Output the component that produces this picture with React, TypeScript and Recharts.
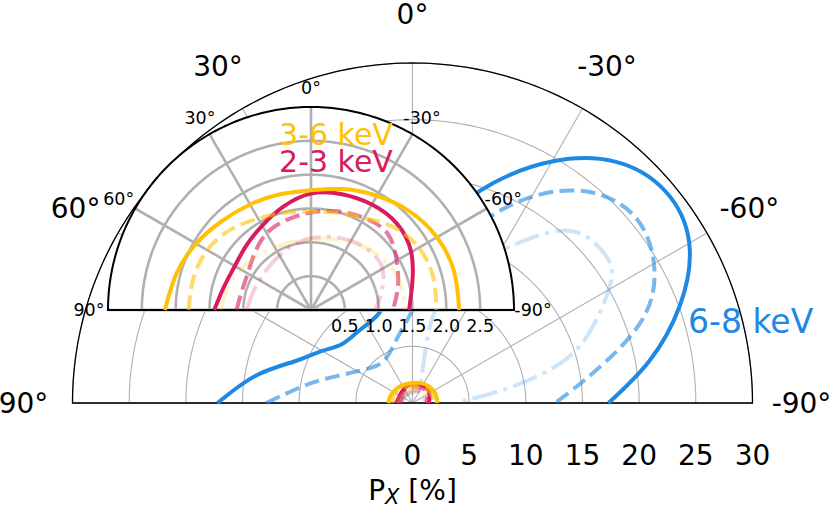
import React from "react";
import {
  RadarChart,
  Radar,
  PolarGrid,
  PolarAngleAxis,
  PolarRadiusAxis,
  Curve,
} from "recharts";

const FONT = "DejaVu Sans, sans-serif";
const BLUE = "#1E88E5";
const ORANGE = "#FFC107";
const CRIMSON = "#D81B60";
const GRID = "#b0b0b0";
const DASHED = "14.8 6.4";
const DASHDOT = "25.6 6.4 4 6.4";

const THETA_TICKS = [-90, -60, -30, 0, 30, 60, 90];
const OUTER_TICKS = [0, 5, 10, 15, 20, 25, 30];
const INSET_TICKS = [0.5, 1, 1.5, 2, 2.5];

// 2-3 keV and 3-6 keV, read on the same angles
const THETA_LOW = [90, 75, 60, 45, 30, 15, 0, -15, -30, -45, -60, -75, -90];
const PX_23_SOLID = [1.43, 1.33, 1.3, 1.35, 1.44, 1.58, 1.72, 1.77, 1.8, 1.8, 1.71, 1.55, 1.45];
const PX_23_DASHED = [1.1, 1.06, 1.08, 1.18, 1.31, 1.38, 1.44, 1.51, 1.57, 1.6, 1.46, 1.33, 1.21];
const PX_23_DASHDOT = [0.95, 0.9, 0.88, 0.89, 0.93, 1.0, 1.06, 1.12, 1.18, 1.23, 1.22, 1.08, 0.95];
const PX_36_SOLID = [2.16, 2.06, 1.96, 1.86, 1.8, 1.77, 1.77, 1.85, 1.95, 2.06, 2.15, 2.19, 2.19];
const PX_36_DASHED = [1.81, 1.8, 1.77, 1.68, 1.56, 1.49, 1.45, 1.49, 1.57, 1.73, 1.84, 1.87, 1.85];
const PX_36_DASHDOT = [1.34, 1.27, 1.2, 1.13, 1.07, 1.04, 1.05, 1.09, 1.16, 1.25, 1.33, 1.38, 1.39];

// 6-8 keV
const THETA_68_SOLID = [90, 80, 70, 60, 50, 35, 20, 10, 0, -10, -20, -30, -40, -50, -60, -70, -80, -90];
const PX_68_SOLID = [17.2, 14.0, 10.9, 9.2, 8.1, 7.95, 8.5, 10.5, 13.2, 16.6, 20.6, 24.6, 27.8, 29.1, 28.2, 25.1, 21.2, 17.3];
const THETA_68_DASHED = [90, 80, 70, 60, 45, 30, 20, 10, 0, -10, -20, -30, -40, -50, -60, -70, -80, -90];
const PX_68_DASHED = [12.9, 9.4, 7.0, 5.6, 4.6, 4.6, 5.2, 6.3, 8.2, 12.0, 16.6, 21.0, 24.3, 25.6, 24.6, 21.6, 16.4, 12.6];
const THETA_68_DASHDOT = [90, 45, 0, -20, -25, -15, -13, -17, -24, -32, -35, -40, -46, -54, -60, -68, -75, -81, -87, -90];
const PX_68_DASHDOT = [1.2, 0.9, 0.9, 1.2, 1.6, 3.9, 7.5, 10.0, 13.3, 16.3, 17.6, 19.8, 21.2, 21.4, 20.0, 16.9, 13.5, 8.7, 4.8, 4.3];

type Series = {
  key: string;
  theta: number[];
  px: number[];
  color: string;
  dash?: string;
  opacity: number;
};

const SERIES_68: Series[] = [
  { key: "s68", theta: THETA_68_SOLID, px: PX_68_SOLID, color: BLUE, opacity: 1 },
  { key: "d68", theta: THETA_68_DASHED, px: PX_68_DASHED, color: BLUE, dash: DASHED, opacity: 0.6 },
  { key: "dd68", theta: THETA_68_DASHDOT, px: PX_68_DASHDOT, color: BLUE, dash: DASHDOT, opacity: 0.22 },
];
const SERIES_LOW: Series[] = [
  { key: "s23", theta: THETA_LOW, px: PX_23_SOLID, color: CRIMSON, opacity: 1 },
  { key: "d23", theta: THETA_LOW, px: PX_23_DASHED, color: CRIMSON, dash: DASHED, opacity: 0.6 },
  { key: "dd23", theta: THETA_LOW, px: PX_23_DASHDOT, color: CRIMSON, dash: DASHDOT, opacity: 0.22 },
  { key: "s36", theta: THETA_LOW, px: PX_36_SOLID, color: ORANGE, opacity: 1 },
  { key: "d36", theta: THETA_LOW, px: PX_36_DASHED, color: ORANGE, dash: DASHED, opacity: 0.6 },
  { key: "dd36", theta: THETA_LOW, px: PX_36_DASHDOT, color: ORANGE, dash: DASHDOT, opacity: 0.22 },
];

const W = 831;
const H = 508;
const FINE_ANGLES = Array.from({ length: 181 }, (_, i) => i);

function toRows(list: Series[]) {
  const rows: Record<string, number>[] = [];
  for (const s of list) {
    s.theta.forEach((t, i) => rows.push({ theta: t, [s.key]: s.px[i] }));
  }
  return rows;
}

// open curve through the points recharts computed (no closing chord)
function openShape(s: Series, width: number) {
  return (props: any) => {
    const pts = (props.points || []).filter(
      (pt: any) => pt.value != null && Number.isFinite(pt.x) && Number.isFinite(pt.y)
    );
    return (
      <Curve
        type="natural"
        points={pts}
        stroke={s.color}
        strokeOpacity={s.opacity}
        strokeWidth={width}
        strokeDasharray={s.dash}
        fill="none"
      />
    );
  };
}

const angleTick = (fontSize: number) => (props: any) => (
  <text
    x={props.x}
    y={props.y}
    textAnchor="middle"
    dominantBaseline="central"
    fontSize={fontSize}
    fontFamily={FONT}
    fill="#000"
  >
    {`${props.payload.value}°`}
  </text>
);

const radiusTick = (fontSize: number, gap: number, digits: number) => (props: any) => (
  <text
    x={props.x}
    y={props.y + gap}
    textAnchor="middle"
    dominantBaseline="central"
    fontSize={fontSize}
    fontFamily={FONT}
    fill="#000"
  >
    {Number(props.payload.value).toFixed(digits)}
  </text>
);

type PanelProps = {
  cx: number;
  cy: number;
  radius: number;
  pMax: number;
  pTicks: number[];
  series: Series[];
  gridWidth: number;
  frameWidth: number;
  fontSize: number;
  labelGap: number;
  tickGap: number;
  digits: number;
  children?: React.ReactNode;
};

function PolarPanel(p: PanelProps) {
  return (
    <RadarChart
      width={W}
      height={H}
      data={toRows(p.series)}
      cx={p.cx}
      cy={p.cy}
      innerRadius={0}
      outerRadius={p.radius}
      startAngle={0}
      endAngle={180}
      margin={{ top: 0, right: 0, bottom: 0, left: 0 }}
    >
      <PolarGrid
        gridType="polygon"
        polarAngles={FINE_ANGLES}
        radialLines={false}
        stroke={GRID}
        strokeWidth={p.gridWidth}
      />
      <PolarGrid gridType="polygon" polarRadius={[]} stroke={GRID} strokeWidth={p.gridWidth} />
      <PolarAngleAxis
        dataKey="theta"
        type="number"
        domain={[-90, 90]}
        ticks={THETA_TICKS}
        axisLine={false}
        tickLine={false}
        tickSize={p.labelGap}
        tick={angleTick(p.fontSize)}
      />
      <PolarRadiusAxis
        angle={0}
        type="number"
        domain={[0, p.pMax]}
        ticks={p.pTicks}
        axisLine={false}
        tick={radiusTick(p.fontSize, p.tickGap, p.digits)}
      />
      {p.series.map((s) => (
        <Radar
          key={s.key}
          dataKey={s.key}
          isAnimationActive={false}
          shape={openShape(s, 4)}
        />
      ))}
      <PolarGrid
        gridType="polygon"
        polarAngles={FINE_ANGLES}
        polarRadius={[p.radius]}
        radialLines={false}
        stroke="#000"
        strokeWidth={p.frameWidth}
      />
      {p.children}
    </RadarChart>
  );
}

const IN_CX = 311;
const IN_CY = 310;
const IN_R = 203;

export default function App() {
  return (
    <div style={{ position: "absolute", left: 0, top: 0, width: W, height: H, background: "#fff" }}>
      <div style={{ position: "absolute", left: 0, top: 0 }}>
        <PolarPanel
          cx={412.5}
          cy={403}
          radius={340}
          pMax={30}
          pTicks={OUTER_TICKS}
          series={[...SERIES_68, ...SERIES_LOW]}
          gridWidth={1.1}
          frameWidth={1.3}
          fontSize={28}
          labelGap={49}
          tickGap={52}
          digits={0}
        >
          <text x={688} y={333} fontSize={33} fontFamily={FONT} fill={BLUE}>
            6-8 keV
          </text>
          <text x={412.5} y={500} textAnchor="middle" fontSize={28} fontFamily={FONT} fill="#000">
            P
            <tspan fontSize={21} fontStyle="italic" dy={4}>
              X
            </tspan>
            <tspan dy={-4}> [%]</tspan>
          </text>
        </PolarPanel>
      </div>
      <div
        style={{
          position: "absolute",
          left: IN_CX - IN_R,
          top: IN_CY - IN_R,
          width: IN_R * 2,
          height: IN_R,
          background: "#fff",
          borderTopLeftRadius: IN_R,
          borderTopRightRadius: IN_R,
        }}
      />
      <div style={{ position: "absolute", left: 0, top: 0 }}>
        <PolarPanel
          cx={IN_CX}
          cy={IN_CY}
          radius={IN_R}
          pMax={3}
          pTicks={INSET_TICKS}
          series={SERIES_LOW}
          gridWidth={2.6}
          frameWidth={2}
          fontSize={17.5}
          labelGap={19}
          tickGap={16}
          digits={1}
        >
          <text x={336} y={145} textAnchor="middle" fontSize={30} fontFamily={FONT} fill={ORANGE}>
            3-6 keV
          </text>
          <text x={336} y={171.5} textAnchor="middle" fontSize={30} fontFamily={FONT} fill={CRIMSON}>
            2-3 keV
          </text>
        </PolarPanel>
      </div>
    </div>
  );
}
